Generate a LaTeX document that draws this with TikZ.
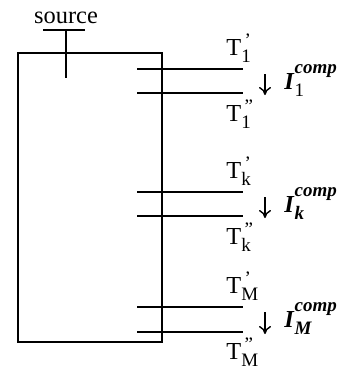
\documentclass[tikz,border=0pt]{standalone}
\usepackage{fontspec}
\setmainfont{Liberation Serif}
\usetikzlibrary{arrows.meta,positioning,calc}

% port temperature label: T, a prime mark above, an index below
\newcommand{\tport}[2]{T\rlap{\hspace{1.6pt}\raisebox{4.2pt}{\fontsize{9.5}{10}\selectfont #1}}%
  \raisebox{-3.8pt}{\fontsize{9.5}{10}\selectfont #2}}
% compensating current label
\newcommand{\icomp}[1]{\textbf{\textit{I}}\rlap{\raisebox{8pt}{\fontsize{9.5}{10}\selectfont\bfseries\itshape comp}}%
  \raisebox{-3.6pt}{\fontsize{9.5}{10}\selectfont #1}}

\begin{document}
\begin{tikzpicture}[
  x=0.5pt, y=-0.5pt,
  font=\fontsize{12.2}{14.5}\selectfont,
  blk/.style  = {draw, line width=1pt, minimum width=72pt, minimum height=144.5pt, inner sep=0pt},
  wire/.style = {draw, line width=1pt},
  flow/.style = {-{To[length=4pt,width=6pt]}, line width=0.7pt},
  tl/.style   = {anchor=base west, inner sep=0pt},
  il/.style   = {anchor=base west, inner sep=0pt},
]
\useasboundingbox (0,0) rectangle (341,370);

% --- the block and its source terminal -------------------------------------------------------
\node[blk] (blk) at (90,197.5) {};
\node[anchor=base, inner sep=0pt] (src) at (66,23) {source};
\coordinate (srcl) at (43,30);
\coordinate (srcr) at (85,30);
\coordinate (srcm) at (66,30);
\coordinate (srce) at (66,78);
\draw[wire] (srcl) -- (srcr);
\draw[wire] (srcm) -- (srce);

% --- port 1 -----------------------------------------------------------------------------------
\coordinate (a1) at (137,69);  \coordinate (a1e) at (243,69);
\coordinate (b1) at (137,93);  \coordinate (b1e) at (243,93);
\draw[wire] (a1) -- (a1e);
\draw[wire] (b1) -- (b1e);
\node[tl] (ta1) at (226,55)  {\tport{\char"0027}{1}};
\node[tl] (tb1) at (226,121) {\tport{\char"0022}{1}};
\coordinate (f1) at (265,74);  \coordinate (f1e) at (265,95);
\draw[flow] (f1) -- (f1e);
\node[il] (i1) at (284,89) {\icomp{1}};

% --- port k -----------------------------------------------------------------------------------
\coordinate (ak) at (137,192); \coordinate (ake) at (243,192);
\coordinate (bk) at (137,216); \coordinate (bke) at (243,216);
\draw[wire] (ak) -- (ake);
\draw[wire] (bk) -- (bke);
\node[tl] (tak) at (226,178) {\tport{\char"0027}{k}};
\node[tl] (tbk) at (226,244) {\tport{\char"0022}{k}};
\coordinate (fk) at (265,197); \coordinate (fke) at (265,218);
\draw[flow] (fk) -- (fke);
\node[il] (ik) at (284,212) {\icomp{\bfseries\itshape k}};

% --- port M -----------------------------------------------------------------------------------
\coordinate (aM) at (137,307); \coordinate (aMe) at (243,307);
\coordinate (bM) at (137,332); \coordinate (bMe) at (243,332);
\draw[wire] (aM) -- (aMe);
\draw[wire] (bM) -- (bMe);
\node[tl] (taM) at (226,293) {\tport{\char"0027}{M}};
\node[tl] (tbM) at (226,359) {\tport{\char"0022}{M}};
\coordinate (fM) at (265,312); \coordinate (fMe) at (265,334);
\draw[flow] (fM) -- (fMe);
\node[il] (iM) at (284,327) {\icomp{\bfseries\itshape M}};

\end{tikzpicture}
\end{document}
